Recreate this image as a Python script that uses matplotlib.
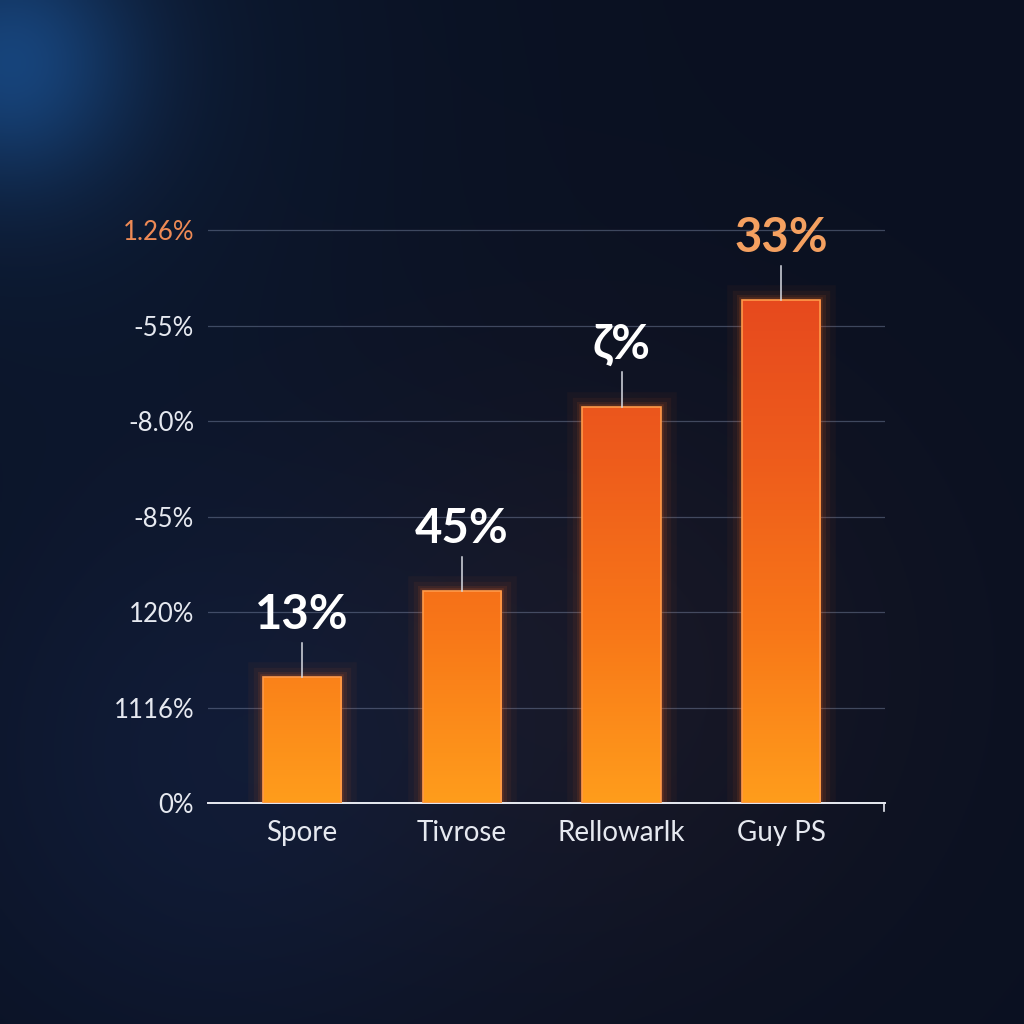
import numpy as np
import matplotlib.pyplot as plt
from matplotlib.colors import LinearSegmentedColormap
from matplotlib.patches import Rectangle

# chart values (in grid steps)
categories = ["Spore", "Tivrose", "Rellowarlk", "Guy PS"]
values = [1.32, 2.22, 4.15, 5.27]
value_labels = ["13%", "45%", "ζ%", "33%"]
tick_labels = ["0%", "1116%", "120%", "-85%", "-8.0%", "-55%", "1.26%"]

plt.rcParams["font.family"] = ["Lato", "DejaVu Sans"]

fig = plt.figure(figsize=(10.24, 10.24), dpi=100)

# background: dark navy with a blue glow at top left
bg = fig.add_axes([0, 0, 1, 1])
bg.set_axis_off()
h = w = 400
yy, xx = np.mgrid[0:h, 0:w] / h
base = np.array([0.04, 0.065, 0.13])
img = np.ones((h, w, 3)) * base
d1 = np.sqrt((xx - 0.01) ** 2 + (yy - 0.06) ** 2)
img += np.exp(-(d1 / 0.12) ** 2)[..., None] * np.array([0.04, 0.16, 0.28])
img += np.exp(-(d1 / 0.35) ** 2)[..., None] * np.array([0.01, 0.04, 0.07])
d2 = np.sqrt((xx - 0.2) ** 2 + (yy - 0.75) ** 2)
img += np.exp(-(d2 / 0.3) ** 2)[..., None] * np.array([0.02, 0.04, 0.08])
d3 = np.sqrt((xx - 0.6) ** 2 + (yy - 0.65) ** 2)
img += np.exp(-(d3 / 0.3) ** 2)[..., None] * np.array([0.05, 0.025, 0.015])
bg.imshow(np.clip(img, 0, 1), extent=[0, 1, 0, 1], aspect="auto")
bg.set_xlim(0, 1)
bg.set_ylim(0, 1)

ax = fig.add_axes([208 / 1024, 221 / 1024, 677 / 1024, 653 / 1024])
ax.patch.set_alpha(0)
x = np.arange(len(categories))

for g in range(1, 7):
    ax.axhline(g, color="#7d8aa8", lw=0.9, alpha=0.45, zorder=1)

cmap = LinearSegmentedColormap.from_list("bar", ["#ff9d1c", "#f87718", "#ee5c1c", "#e6481e"])
grad = np.linspace(0, 1, 256).reshape(-1, 1)

bw = 0.49
for i, v in enumerate(values):
    # glow around the bar
    for k, a in zip([22, 14, 8, 4], [0.04, 0.06, 0.09, 0.14]):
        ax.add_patch(Rectangle((x[i] - bw / 2, 0), bw, v, fill=False,
                               ec="#ff6a1a", lw=k, alpha=a, zorder=2))
    rect = Rectangle((x[i] - bw / 2, 0), bw, v, fc="none", ec="#ff9a4a", lw=1.2, zorder=4)
    ax.add_patch(rect)
    im = ax.imshow(grad, cmap=cmap, origin="lower", extent=[x[i] - bw / 2, x[i] + bw / 2, 0, 5.4],
                   aspect="auto", zorder=3)
    im.set_clip_path(Rectangle((x[i] - bw / 2, 0), bw, v, transform=ax.transData))
    # connector line and value label
    ax.plot([x[i], x[i]], [v, v + 0.36], color="#d8dbe3", lw=1.1, zorder=4)
    col = "#f4a060" if i == 3 else "white"
    ax.text(x[i], v + 0.42, value_labels[i], ha="center", va="bottom", color=col,
            fontsize=34, fontweight="bold", zorder=5)

ax.set_xlim(-0.59, 3.65)
ax.set_ylim(0, 6.84)

ax.set_yticks(range(7))
ax.set_yticklabels(tick_labels, fontsize=18.5, color="#e6e9f0")
ax.get_yticklabels()[-1].set_color("#ee8a55")
ax.set_xticks(x)
ax.set_xticklabels(categories, fontsize=20, color="#e6e9f0")
ax.tick_params(axis="y", length=0, pad=10)
ax.tick_params(axis="x", length=0, pad=12)

for s in ["top", "right", "left"]:
    ax.spines[s].set_visible(False)
ax.spines["bottom"].set_color("#e8ebf2")
ax.spines["bottom"].set_linewidth(1.4)
ax.plot([3.645, 3.645], [0, -0.08], color="#e8ebf2", lw=1.2, clip_on=False)

fig.savefig("out.png", dpi=100)
